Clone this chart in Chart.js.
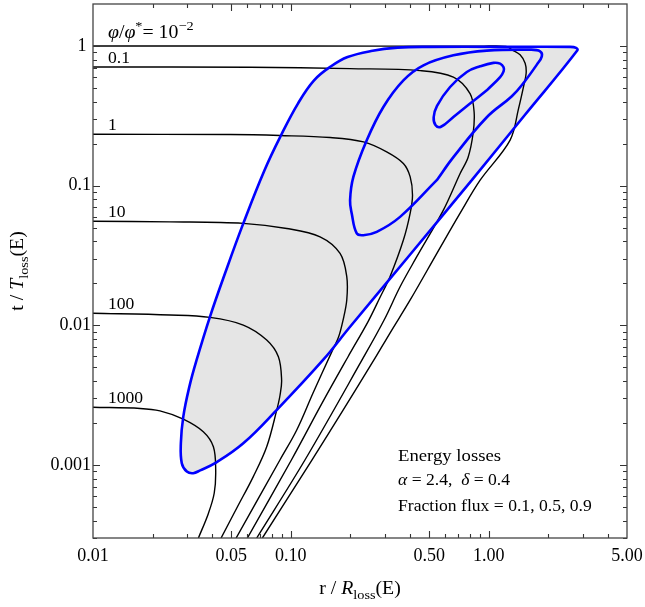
<!DOCTYPE html>
<html>
<head>
<meta charset="utf-8">
<script src="https://cdn.jsdelivr.net/npm/chart.js@4.4.0/dist/chart.umd.min.js"></script>
<style>
	html, body { margin: 0; padding: 0; background: #fff; }
	#wrap { width: 645px; height: 607px; }
</style>
</head>
<body>
<div id="wrap"><canvas id="myChart"></canvas></div>
<script>
// 축 눈금
let xTicks = [0.01, 0.05, 0.1, 0.5, 1, 5];
let xTickLabels = ['0.01', '0.05', '0.10', '0.50', '1.00', '5.00'];
let yTicks = [0.001, 0.01, 0.1, 1];
let yTickLabels = ['0.001', '0.01', '0.1', '1 '];

// phi/phi* 등고선 : r / R_loss, t / T_loss
let phiLabels = ['10^-2', '0.1', '1', '10', '100', '1000'];

let phi001_r = [0.01, 0.111, 0.905, 1.225, 1.313, 1.441, 1.528, 1.546, 1.501, 1.416, 1.283, 0.905, 0.717, 0.548, 0.401, 0.317, 0.263, 0.184, 0.128, 0.0718];
let phi001_t = [1.0, 1.0, 0.997, 0.995, 0.939, 0.865, 0.752, 0.638, 0.515, 0.358, 0.212, 0.1095, 0.0636, 0.0329, 0.0152, 0.00881, 0.00565, 0.00248, 0.00109, 0.0003];

let phi01_r = [0.01, 0.0622, 0.199, 0.45, 0.663, 0.805, 0.844, 0.834, 0.787, 0.717, 0.590, 0.433, 0.3565, 0.296, 0.229, 0.118, 0.0672];
let phi01_t = [0.708, 0.704, 0.689, 0.667, 0.600, 0.457, 0.3355, 0.2374, 0.160, 0.1223, 0.0668, 0.0310, 0.0189, 0.01091, 0.00565, 0.00109, 0.0003];

let phi1_r = [0.01, 0.0493, 0.0882, 0.158, 0.233, 0.305, 0.3705, 0.401, 0.412, 0.401, 0.3705, 0.317, 0.2825, 0.246, 0.1946, 0.1438, 0.1008, 0.0603];
let phi1_t = [0.2335, 0.2323, 0.2285, 0.2212, 0.2057, 0.1745, 0.1441, 0.1156, 0.0855, 0.0636, 0.0408, 0.0223, 0.0159, 0.01068, 0.00596, 0.00277, 0.00109, 0.0003];

let phi10_r = [0.01, 0.0245, 0.0575, 0.0954, 0.1405, 0.1773, 0.1917, 0.1917, 0.1836, 0.1742, 0.1597, 0.1293, 0.1071, 0.0882, 0.0529];
let phi10_t = [0.0557, 0.0551, 0.0537, 0.0494, 0.0430, 0.0327, 0.0223, 0.0152, 0.01091, 0.00824, 0.0063, 0.00326, 0.00178, 0.00109, 0.0003];

let phi100_r = [0.01, 0.0245, 0.039, 0.0575, 0.0755, 0.0865, 0.0898, 0.0882, 0.0849, 0.0755, 0.0646, 0.0538, 0.0444];
let phi100_t = [0.0122, 0.01185, 0.0114, 0.01005, 0.00785, 0.00596, 0.00406, 0.00317, 0.00248, 0.00135, 0.000826, 0.000504, 0.0003];

let phi1000_r = [0.01, 0.0173, 0.0218, 0.0286, 0.0361, 0.0406, 0.0417, 0.0410, 0.0383, 0.0341];
let phi1000_t = [0.00259, 0.00254, 0.00244, 0.00213, 0.00173, 0.00135, 0.00092, 0.00063, 0.00045, 0.0003];

// 플럭스 비율 0.9 / 0.5 / 0.1 (닫힌 곡선)
let flux09_r = [0.8215, 0.4048, 0.1992, 0.1455, 0.0849, 0.0575, 0.0414, 0.0348, 0.0321, 0.0298, 0.0281, 0.0278, 0.0286, 0.0307, 0.0334, 0.0390, 0.0465, 0.0575, 0.0736, 0.0892, 0.1086, 0.1310, 0.1597, 0.1935, 0.2544, 0.3463, 0.5055, 1.142, 2.579, 2.766, 2.808, 1.519, 0.8215];
let flux09_t = [0.1095, 0.0327, 0.00977, 0.00565, 0.00248, 0.00143, 0.00103, 0.000915, 0.000873, 0.000897, 0.00103, 0.00143, 0.00222, 0.00364, 0.00565, 0.01151, 0.0236, 0.0537, 0.1291, 0.2296, 0.3873, 0.568, 0.716, 0.834, 0.921, 0.974, 0.987, 0.987, 0.987, 0.971, 0.932, 0.3193, 0.1095];

let flux05_r = [0.5465, 0.663, 0.978, 1.309, 1.498, 1.751, 1.855, 1.819, 1.619, 0.978, 0.663, 0.468, 0.3705, 0.2935, 0.2419, 0.207, 0.1992, 0.2031, 0.2153, 0.2326, 0.2718, 0.3565, 0.5465];
let flux05_t = [0.1095, 0.160, 0.309, 0.437, 0.543, 0.736, 0.844, 0.917, 0.942, 0.927, 0.858, 0.728, 0.568, 0.3663, 0.2116, 0.1156, 0.0787, 0.0633, 0.0455, 0.0442, 0.0467, 0.0598, 0.1095];

let flux01_r = [0.978, 0.805, 0.663, 0.574, 0.539, 0.527, 0.548, 0.638, 0.775, 0.905, 1.056, 1.142, 1.189, 1.189, 1.142, 0.978];
let flux01_t = [0.482, 0.3873, 0.3105, 0.2642, 0.2709, 0.309, 0.3735, 0.509, 0.652, 0.716, 0.758, 0.748, 0.704, 0.659, 0.600, 0.482];

const FONT = '"Liberation Serif", "Times New Roman", serif';
const labelR = 0.0119; // 등고선 이름이 시작하는 r

function pts(rs, ts) {
	return rs.map((r, i) => ({ x: r, y: ts[i] }));
}

// 이탤릭/첨자가 섞인 텍스트
function drawRich(ctx, x, y, parts, size, align, angle) {
	ctx.save();
	ctx.translate(x, y);
	if (angle) ctx.rotate(angle);
	ctx.scale(1.1, 1);
	let fontOf = (p) => (p.it ? 'italic ' : '') + Math.round(size * (p.sub || p.sup ? 0.7 : 1)) + 'px ' + FONT;
	let w = 0;
	parts.forEach((p) => {
		ctx.font = fontOf(p);
		w += ctx.measureText(p.t).width;
	});
	let cx = align === 'center' ? -w / 2 : 0;
	ctx.fillStyle = '#000';
	ctx.textBaseline = 'alphabetic';
	ctx.textAlign = 'left';
	parts.forEach((p) => {
		ctx.font = fontOf(p);
		let dy = p.sub ? size * 0.28 : p.sup ? -size * 0.4 : 0;
		ctx.fillText(p.t, cx, dy);
		cx += ctx.measureText(p.t).width;
	});
	ctx.restore();
}

// 테두리, 안쪽 눈금, 글자
const decor = {
	id: 'decor',
	afterDatasetsDraw(chart) {
		const ctx = chart.ctx;
		const a = chart.chartArea;
		const xs = chart.scales.x;
		const ys = chart.scales.y;

		ctx.save();
		ctx.strokeStyle = '#333';
		ctx.lineWidth = 1.1;
		ctx.beginPath();
		// x 눈금 (아래/위)
		[0.01, 0.1, 1].forEach((d) => {
			for (let m = 1; m <= 9; m++) {
				let v = m * d;
				if (v <= 0.01 || v >= 5) continue;
				let len = xTicks.includes(+v.toPrecision(3)) ? 7 : 4;
				let px = Math.round(xs.getPixelForValue(v)) + 0.5;
				ctx.moveTo(px, a.bottom); ctx.lineTo(px, a.bottom - len);
				ctx.moveTo(px, a.top); ctx.lineTo(px, a.top + len);
			}
		});
		// y 눈금 (왼쪽/오른쪽)
		[0.0001, 0.001, 0.01, 0.1, 1].forEach((d) => {
			for (let m = 1; m <= 9; m++) {
				let v = m * d;
				if (v <= 0.0003 || v >= 2) continue;
				let len = m === 1 ? 7 : 4;
				let py = Math.round(ys.getPixelForValue(v)) + 0.5;
				ctx.moveTo(a.left, py); ctx.lineTo(a.left + len, py);
				ctx.moveTo(a.right, py); ctx.lineTo(a.right - len, py);
			}
		});
		ctx.stroke();
		ctx.strokeStyle = '#444';
		ctx.lineWidth = 1.3;
		ctx.strokeRect(a.left, a.top, a.right - a.left, a.bottom - a.top);
		ctx.restore();

		// 등고선 이름
		let lx = xs.getPixelForValue(labelR);
		drawRich(ctx, lx, ys.getPixelForValue(phi001_t[0]) - 8.5, [
			{ t: 'φ', it: 1 }, { t: '/' }, { t: 'φ', it: 1 }, { t: '*', sup: 1 }, { t: '= 10' }, { t: '−2', sup: 1 },
		], 18);
		let starts = [phi01_t[0], phi1_t[0], phi10_t[0], phi100_t[0], phi1000_t[0]];
		starts.forEach((t, i) => {
			drawRich(ctx, lx, ys.getPixelForValue(t) - 4, [{ t: phiLabels[i + 1] }], 16);
		});

		// 설명 글
		drawRich(ctx, 398, 461, [{ t: 'Energy losses' }], 17);
		drawRich(ctx, 398, 485, [{ t: 'α', it: 1 }, { t: ' = 2.4,  ' }, { t: 'δ', it: 1 }, { t: ' = 0.4' }], 16);
		drawRich(ctx, 398, 511, [{ t: 'Fraction flux = 0.1, 0.5, 0.9' }], 16);

		// 축 제목
		let cx = (a.left + a.right) / 2;
		let cy = (a.top + a.bottom) / 2;
		drawRich(ctx, cx, 594, [{ t: 'r / ' }, { t: 'R', it: 1 }, { t: 'loss', sub: 1 }, { t: '(E)' }], 18, 'center');
		drawRich(ctx, 23, cy, [{ t: 't / ' }, { t: 'T', it: 1 }, { t: 'loss', sub: 1 }, { t: '(E)' }], 18, 'center', -Math.PI / 2);
	},
};

function blue(data, extra) {
	return Object.assign({
		data: data,
		showLine: true,
		borderColor: '#0000ff',
		borderWidth: 2.6,
		pointRadius: 0,
		pointHoverRadius: 0,
		tension: 0.4,
		fill: false,
	}, extra || {});
}

function black(data) {
	return {
		data: data,
		showLine: true,
		borderColor: '#000',
		borderWidth: 1.4,
		pointRadius: 0,
		pointHoverRadius: 0,
		tension: 0.35,
		fill: false,
	};
}

var chartArea = document.getElementById('myChart').getContext('2d');
var myChart = new Chart(chartArea, {
	type: 'scatter',
	data: {
		datasets: [
			blue(pts(flux09_r, flux09_t), { fill: 'shape', backgroundColor: '#e5e5e5' }),
			blue(pts(flux05_r, flux05_t)),
			blue(pts(flux01_r, flux01_t)),
			black(pts(phi001_r, phi001_t)),
			black(pts(phi01_r, phi01_t)),
			black(pts(phi1_r, phi1_t)),
			black(pts(phi10_r, phi10_t)),
			black(pts(phi100_r, phi100_t)),
			black(pts(phi1000_r, phi1000_t)),
		],
	},
	options: {
		responsive: true,
		maintainAspectRatio: false,
		animation: false,
		events: [],
		layout: { padding: { top: 4, right: 18, bottom: 0, left: 0 } },
		plugins: {
			legend: { display: false },
			tooltip: { enabled: false },
			filler: { drawTime: 'beforeDatasetsDraw' },
		},
		scales: {
			x: {
				type: 'logarithmic',
				min: 0.01,
				max: 5,
				grid: { display: false, drawTicks: false },
				border: { display: false },
				afterBuildTicks: (s) => { s.ticks = xTicks.map((v) => ({ value: v })); },
				afterFit: (s) => {
					s.height = 69;
					s.paddingLeft = 0;
					s.paddingRight = 0;
				},
				ticks: {
					autoSkip: false,
					maxRotation: 0,
					padding: 7,
					color: '#000',
					font: { family: FONT, size: 18 },
					callback: (v, i) => xTickLabels[i],
				},
			},
			y: {
				type: 'logarithmic',
				min: 0.0003,
				max: 2,
				grid: { display: false, drawTicks: false },
				border: { display: false },
				afterBuildTicks: (s) => { s.ticks = yTicks.map((v) => ({ value: v })); },
				afterFit: (s) => {
					s.width = 93;
					s.paddingTop = 0;
					s.paddingBottom = 0;
				},
				ticks: {
					autoSkip: false,
					padding: 2,
					color: '#000',
					font: { family: FONT, size: 18 },
					callback: (v, i) => yTickLabels[i],
				},
			},
		},
	},
	plugins: [decor],
});
</script>
</body>
</html>
